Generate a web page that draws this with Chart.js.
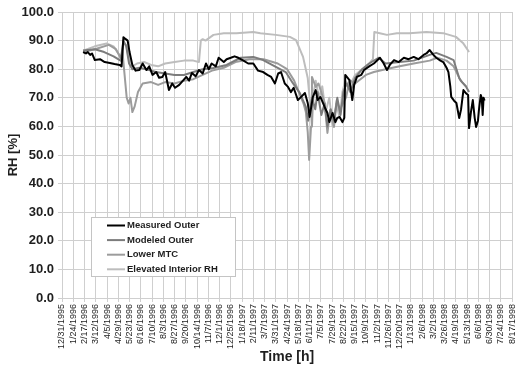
<!DOCTYPE html>
<html>
<head>
<meta charset="utf-8">
<script src="https://cdn.jsdelivr.net/npm/chart.js@4.4.0/dist/chart.umd.min.js"></script>
<style>
  html, body { margin: 0; padding: 0; background: #fff; }
  #wrap { width: 525px; height: 368px; position: relative; }
</style>
</head>
<body>
<div id="wrap"><canvas id="rhChart"></canvas></div>
<script>
// x values are days since 12/31/1995, ticks every 24 days
const tickLabels = ["12/31/1995","1/24/1996","2/17/1996","3/12/1996","4/5/1996","4/29/1996","5/23/1996","6/16/1996","7/10/1996","8/3/1996","8/27/1996","9/20/1996","10/14/1996","11/7/1996","12/1/1996","12/25/1996","1/18/1997","2/11/1997","3/7/1997","3/31/1997","4/24/1997","5/18/1997","6/11/1997","7/5/1997","7/29/1997","8/22/1997","9/15/1997","10/9/1997","11/2/1997","11/26/1997","12/20/1997","1/13/1998","2/6/1998","3/2/1998","3/26/1998","4/19/1998","5/13/1998","6/6/1998","6/30/1998","7/24/1998","8/17/1998"];
const tickStep = 24;
const yTicks = [0,10,20,30,40,50,60,70,80,90,100];

const measuredDays = [45,51,55,60,64,70,81,91,102,112,123,127,131,136,140,144,150,157,165,172,180,186,193,201,207,214,220,228,235,241,250,258,265,271,277,285,292,300,307,313,319,328,334,345,351,360,368,376,387,397,408,418,429,438,446,454,461,467,475,482,488,494,503,511,518,524,528,535,541,545,551,560,566,570,577,583,587,592,598,602,604,613,619,623,629,638,644,655,665,678,686,693,699,708,718,729,739,750,760,771,777,784,792,798,807,813,820,824,828,830,836,841,847,851,856,862,866,868,872,876,880,883,887,889,893,895,897,899,901];
const measuredRH = [86,85.5,86,85,85.5,83.2,83.5,82.5,82.2,81.8,81.5,81,91.2,90.5,90,86,81.5,79.5,79.7,82,79.7,81,78,79,77,77.3,79,72.7,75,73.5,74.5,76,77.3,76,78.7,77.5,79.7,78.5,82,80,82,81,84,82.5,83.5,84,84.5,84,83,82,82,79.5,79,78,77.3,75,78.5,79,75,73.8,72,73.5,69.2,70.5,71.7,68.2,63.3,70.3,72.7,69.2,70.3,66.8,64.7,61.5,64.7,61.5,63,63.3,61.5,63,78,76.2,69.2,74.5,77.3,78,79.7,81,82,84,82,79.7,81.5,83.2,82.5,84,83.5,84.3,83.5,85,85.5,86.7,85,84,83,82.5,80.5,79,74,70.3,69,68.2,62.9,66,72.7,71.5,71,59.4,65,69.2,63,59.8,62,65.7,71,70,64,70,69];

const modeledDays = [45,70,90,110,125,131,137,143,150,165,180,200,220,240,260,280,300,323,351,381,408,429,456,477,492,507,520,525,533,540,545,553,560,566,573,580,587,594,600,607,615,625,640,655,675,690,720,750,784,798,820,835,847,853,862,868];
const modeledRH = [86.5,87,86,84.5,83,90,88,82,80,80.5,80,79,78.5,78,78,79,80,80.4,81.5,84,84.3,83.2,80.8,79,75.2,71.7,66.8,62,70,66,72,64,68,60,66,62,70,64,72,75,72,77,80,82,84,82,82.5,83,85,85.7,84.3,83.2,76.9,75.5,73.8,72];

const lowerDays = [45,70,100,115,125,129,138,142,146,150,155,162,172,190,205,220,240,260,280,300,320,345,370,400,430,460,480,495,505,515,520,524,527,531,533,541,547,560,566,572,580,586,592,606,613,625,648,665,690,720,750,784,800,820,835,850,862];
const lowerRH = [86,87,88.5,87,84,86,70,68,70,65,67,72,75,75.5,74.5,75.5,75,76,76.5,78,79.5,80.5,82.5,83.5,83.5,82,80,76,72,68,65,58,48.3,60,77.3,73.8,75,68.2,57.7,65.7,59.8,69.2,65.7,70.3,76.2,75,78,79,80,81,82,83,84,83,81,76,74];

const elevatedDays = [45,70,95,110,122,127,131,137,142,150,160,175,190,205,220,240,260,280,292,296,300,306,323,345,372,408,423,456,486,499,514,524,529,533,537,541,548,555,562,570,577,585,592,598,604,613,625,640,655,663,666,680,693,714,741,777,813,840,855,868];
const elevatedRH = [86.5,88,89,88,85,83,89,88.5,84,81,82,82.5,81.5,81,82,82.5,83,83,82.5,90,90.5,90,92,92.6,92.6,93,92.6,92,91.3,90.2,84.3,76.9,68,60,72,76,70,74,65,70,60,68,63,72,76,74,78,80,82,83.5,93,92.5,92,92.6,92.6,93,92.6,91.3,89.2,86];

const seriesNames = ["Measured Outer", "Modeled Outer", "Lower MTC", "Elevated Interior RH"];
const seriesColors = ["#000000", "#7c7c7c", "#9c9c9c", "#bdbdbd"];

function pts(days, vals) {
    return days.map(function (d, i) { return {x: d, y: vals[i]}; });
}

const gridColor = "#cfcfcf";

// legend box drawn inside the plot, like the original
const boxLegend = {
    id: "boxLegend",
    afterDraw: function (chart) {
        var c = chart.ctx;
        var x = 91, y = 217, w = 144, h = 59;
        c.save();
        c.fillStyle = "#fff";
        c.fillRect(x, y, w, h);
        c.strokeStyle = "#c4c4c4";
        c.lineWidth = 1;
        c.strokeRect(x + 0.5, y + 0.5, w, h);
        c.font = "bold 9.5px 'Liberation Sans', Arial, sans-serif";
        c.textBaseline = "middle";
        chart.data.datasets.forEach(function (ds, i) {
            var ly = y + 8.5 + i * 14.6;
            c.strokeStyle = ds.borderColor;
            c.lineWidth = 2;
            c.beginPath();
            c.moveTo(107, ly);
            c.lineTo(125, ly);
            c.stroke();
            c.fillStyle = "#1e1e1e";
            c.fillText(ds.label, 127, ly);
        });
        c.restore();
    }
};

var ctx = document.getElementById("rhChart").getContext("2d");
var myChart = new Chart(ctx, {
    type: 'line',
    data: {
        datasets: [
            {label: seriesNames[0], data: pts(measuredDays, measuredRH), borderColor: seriesColors[0], borderWidth: 2},
            {label: seriesNames[1], data: pts(modeledDays, modeledRH), borderColor: seriesColors[1], borderWidth: 2},
            {label: seriesNames[2], data: pts(lowerDays, lowerRH), borderColor: seriesColors[2], borderWidth: 2},
            {label: seriesNames[3], data: pts(elevatedDays, elevatedRH), borderColor: seriesColors[3], borderWidth: 2}
        ]
    },
    options: {
        responsive: true,
        maintainAspectRatio: false,
        animation: false,
        elements: {
            point: {radius: 0},
            line: {tension: 0, borderJoinStyle: 'round'}
        },
        layout: {padding: {top: 12, right: 8, left: 0, bottom: 0}},
        plugins: {
            legend: {display: false},
            tooltip: {enabled: false}
        },
        scales: {
            x: {
                type: 'linear',
                min: 0,
                max: (tickLabels.length - 1) * tickStep,
                afterBuildTicks: function (scale) {
                    scale.ticks = tickLabels.map(function (l, i) { return {value: i * tickStep}; });
                },
                afterFit: function (scale) { scale.height = 70; },
                ticks: {
                    autoSkip: false,
                    maxRotation: 90,
                    minRotation: 90,
                    padding: 2,
                    color: "#1e1e1e",
                    font: {family: "'Liberation Sans', Arial, sans-serif", size: 9},
                    callback: function (value, index) { return tickLabels[index]; }
                },
                grid: {color: gridColor, tickLength: 4, lineWidth: 1},
                border: {color: gridColor},
                title: {
                    display: true,
                    text: "Time [h]",
                    color: "#1e1e1e",
                    padding: {top: 0, bottom: 2},
                    font: {family: "'Liberation Sans', Arial, sans-serif", size: 14, weight: 'bold'}
                }
            },
            y: {
                min: 0,
                max: 100,
                afterBuildTicks: function (scale) {
                    scale.ticks = yTicks.map(function (v) { return {value: v}; });
                },
                afterFit: function (scale) { scale.width = 62; },
                ticks: {
                    padding: 4,
                    color: "#1e1e1e",
                    font: {family: "'Liberation Sans', Arial, sans-serif", size: 13, weight: 'bold'},
                    callback: function (value) { return value.toFixed(1); }
                },
                grid: {color: gridColor, tickLength: 4, lineWidth: 1},
                border: {color: gridColor},
                title: {
                    display: true,
                    text: "RH [%]",
                    color: "#1e1e1e",
                    padding: {top: 6, bottom: 0},
                    font: {family: "'Liberation Sans', Arial, sans-serif", size: 13, weight: 'bold'}
                }
            }
        }
    },
    plugins: [boxLegend]
});
</script>
</body>
</html>
